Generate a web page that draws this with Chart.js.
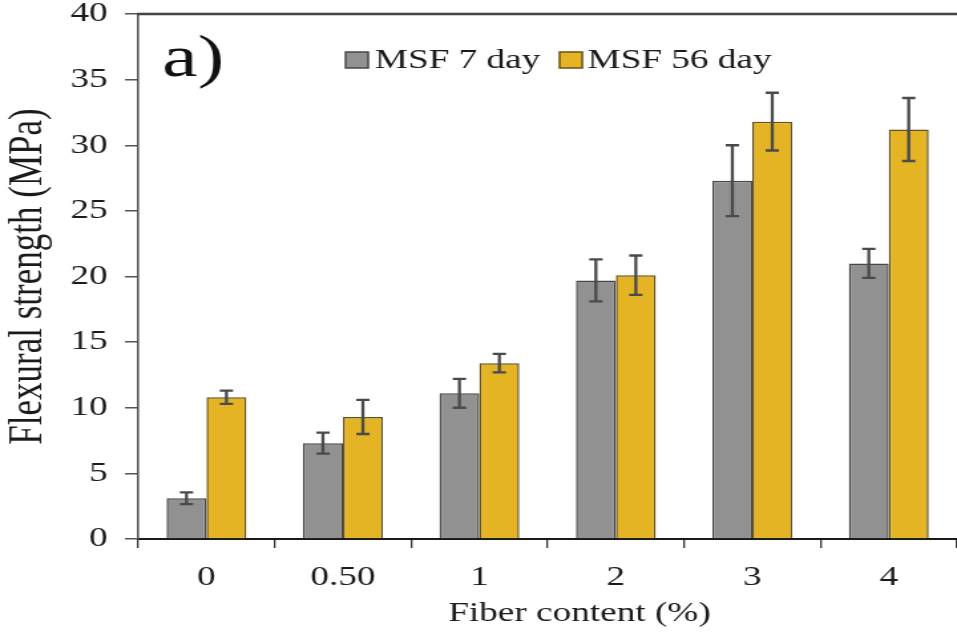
<!DOCTYPE html>
<html>
<head>
<meta charset="utf-8">
<script src="https://cdn.jsdelivr.net/npm/chart.js@4.4.0/dist/chart.umd.min.js"></script>
<style>
html,body{margin:0;padding:0;background:#fff;overflow:hidden;}
#wrap{width:957px;height:643px;position:relative;overflow:hidden;}
#c{position:absolute;left:0;top:0;transform-origin:0 0;}
</style>
</head>
<body>
<div id="wrap"><canvas id="c" width="720" height="643"></canvas></div>
<script>
const categories = ['0', '0.50', '1', '2', '3', '4'];
const msf7 = [3.1, 7.3, 11.1, 19.7, 27.3, 21.0];
const msf7Err = [0.45, 0.8, 1.1, 1.6, 2.7, 1.1];
const msf56 = [10.8, 9.3, 13.4, 20.1, 31.8, 31.2];
const msf56Err = [0.5, 1.3, 0.7, 1.5, 2.2, 2.4];
const yTicks = [0, 5, 10, 15, 20, 25, 30, 35, 40];

const FONT = "'Liberation Serif', 'Times New Roman', serif";
const CW = 720, SX = 957 / CW;
document.getElementById('c').style.transform = 'scaleX(' + SX + ')';

const errorBars = {
  id: 'errorBars',
  afterDatasetsDraw(chart) {
    const ctx = chart.ctx;
    const y = chart.scales.y;
    const errs = [msf7Err, msf56Err];
    ctx.save();
    ctx.strokeStyle = '#4a4a4a';
    ctx.lineWidth = 2.3;
    chart.data.datasets.forEach((ds, i) => {
      const meta = chart.getDatasetMeta(i);
      meta.data.forEach((bar, j) => {
        const v = ds.data[j], e = errs[i][j];
        const yt = y.getPixelForValue(v + e), yb = y.getPixelForValue(v - e);
        const x = bar.x, cw = 5;
        ctx.beginPath();
        ctx.moveTo(x, yt); ctx.lineTo(x, yb);
        ctx.moveTo(x - cw, yt); ctx.lineTo(x + cw, yt);
        ctx.moveTo(x - cw, yb); ctx.lineTo(x + cw, yb);
        ctx.stroke();
      });
    });
    ctx.restore();
  }
};

const decor = {
  id: 'decor',
  afterDraw(chart) {
    const ctx = chart.ctx, a = chart.chartArea;
    ctx.save();
    // top frame line
    ctx.strokeStyle = '#444';
    ctx.lineWidth = 2.5;
    ctx.beginPath();
    ctx.moveTo(a.left - 0.8, a.top); ctx.lineTo(a.right + 2, a.top);
    ctx.stroke();
    // panel label
    ctx.fillStyle = '#111';
    ctx.font = '60px ' + FONT;
    ctx.textBaseline = 'alphabetic';
    ctx.textAlign = 'left';
    ctx.fillText('a)', 122, 76);
    // legend
    ctx.font = '28px ' + FONT;
    const items = [{ bx: 260, tx: 282 }, { bx: 421, tx: 442 }];
    chart.data.datasets.forEach((ds, i) => {
      const it = items[i];
      ctx.fillStyle = ds.backgroundColor;
      ctx.strokeStyle = ds.borderColor;
      ctx.lineWidth = 1.5;
      ctx.fillRect(it.bx, 52, 17, 16);
      ctx.strokeRect(it.bx, 52, 17, 16);
      ctx.fillStyle = '#1a1a1a';
      ctx.fillText(ds.label, it.tx, 68);
    });
    // x axis title
    ctx.font = '28px ' + FONT;
    ctx.textAlign = 'center';
    ctx.textBaseline = 'middle';
    ctx.fillText('Fiber content (%)', 436, 614);
    ctx.restore();
  }
};

new Chart(document.getElementById('c'), {
  type: 'bar',
  data: {
    labels: categories,
    datasets: [
      { label: 'MSF 7 day', data: msf7, backgroundColor: '#919191', borderColor: '#474747', borderWidth: 1.5 },
      { label: 'MSF 56 day', data: msf56, backgroundColor: '#e4b425', borderColor: '#66511c', borderWidth: 1.5 }
    ]
  },
  options: {
    responsive: false,
    animation: false,
    devicePixelRatio: 1,
    layout: { padding: { top: 14, right: 0, left: 0, bottom: 0 } },
    datasets: { bar: { categoryPercentage: 0.585, barPercentage: 1.0 } },
    plugins: {
      legend: { display: false },
      tooltip: { enabled: false }
    },
    scales: {
      x: {
        offset: true,
        grid: { display: true, drawOnChartArea: false, offset: true, tickLength: 9, color: '#333', lineWidth: 1.3 },
        border: { display: true, color: '#1a1a1a', width: 2 },
        ticks: { font: { family: FONT, size: 28 }, color: '#1a1a1a', padding: 13 },
        title: { display: false },
        afterFit(s) { s.height = 104; s.paddingLeft = 0; s.paddingRight = 0; }
      },
      y: {
        min: 0, max: 40,
        afterBuildTicks(s) { s.ticks = yTicks.map(v => ({ value: v })); },
        grid: { display: true, drawOnChartArea: false, tickLength: 10, color: '#555', lineWidth: 1.5 },
        border: { display: true, color: '#555', width: 1.6 },
        ticks: { font: { family: FONT, size: 28 }, color: '#1a1a1a', padding: 13 },
        title: { display: true, text: 'Flexural strength (MPa)', font: { family: FONT, size: 35 }, color: '#1a1a1a', padding: { top: 1, bottom: 0 } },
        afterFit(s) { s.width = 104; s.paddingTop = 0; s.paddingBottom = 0; }
      }
    }
  },
  plugins: [errorBars, decor]
});
</script>
</body>
</html>
